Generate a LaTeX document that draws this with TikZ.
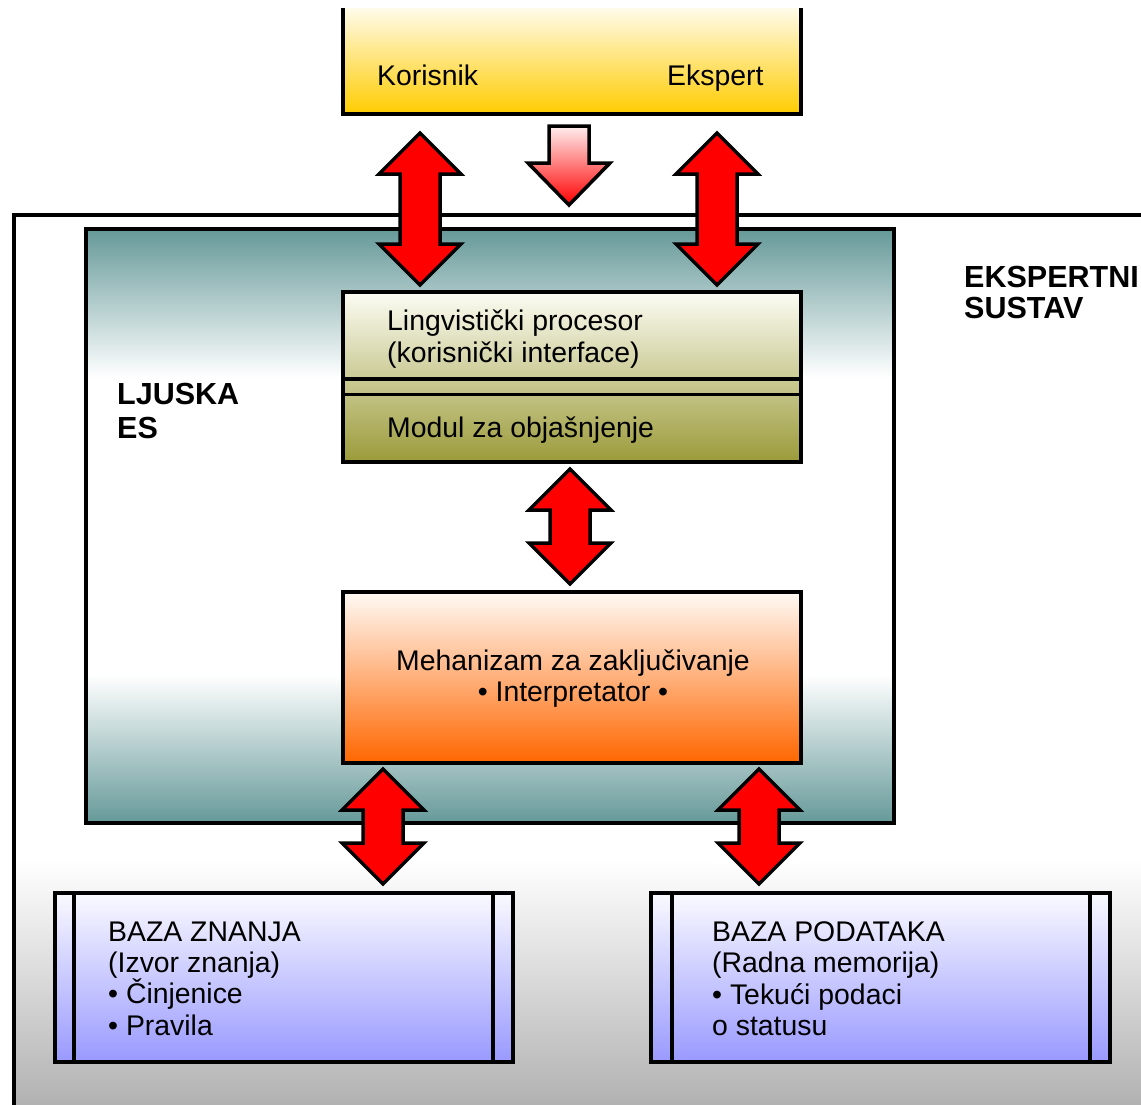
\documentclass[tikz,border=0pt]{standalone}
\usepackage{fontspec}
\setmainfont{Liberation Sans}
\usetikzlibrary{calc}
\definecolor{tealc}{HTML}{669999}
\definecolor{grayc}{HTML}{B0B0B0}
\definecolor{creamc}{HTML}{FFFBEA}
\definecolor{goldc}{HTML}{FFCC00}
\definecolor{olivetop}{HTML}{FCFCF4}
\definecolor{olivebot}{HTML}{9B9B3A}
\definecolor{orangetop}{HTML}{FFFAF5}
\definecolor{orangebot}{HTML}{FF6600}
\definecolor{lavtop}{HTML}{FAFAFF}
\definecolor{lavbot}{HTML}{9999FF}
\definecolor{pinktop}{HTML}{FFEEEE}
\newcommand\dblarr[2]{\path[redarrow] let \p1=(#1), \p2=(#2) in
  (\x1,\y1) -- (\x1+41pt,\y1-41pt) -- (\x1+20pt,\y1-41pt) -- (\x1+20pt,\y2+41pt)
  -- (\x1+41pt,\y2+41pt) -- (\x1,\y2) -- (\x1-41pt,\y2+41pt) -- (\x1-20pt,\y2+41pt)
  -- (\x1-20pt,\y1-41pt) -- (\x1-41pt,\y1-41pt) -- cycle;}
\newcommand\downarr[2]{\path[downarrow] let \p1=(#1), \p2=(#2) in
  (\x1-20pt,\y1) -- (\x1+20pt,\y1) -- (\x1+20pt,\y2+42pt) -- (\x1+41pt,\y2+42pt)
  -- (\x1,\y2) -- (\x1-41pt,\y2+42pt) -- (\x1-20pt,\y2+42pt) -- cycle;}
\begin{document}
\begin{tikzpicture}[x=1pt,y=-1pt,
  box/.style={draw=black, line width=4pt, outer sep=0pt, inner sep=0pt, rectangle},
  lbl/.style={anchor=base west, inner sep=0pt, font=\fontsize{28.4}{31}\selectfont},
  clbl/.style={anchor=base, inner sep=0pt, font=\fontsize{28.4}{31}\selectfont},
  blbl/.style={anchor=base west, inner sep=0pt, font=\fontsize{30.5}{34}\selectfont\bfseries},
  frame/.style={draw=black, line width=4pt},
  redarrow/.style={draw=black, fill=red, line width=3.5pt, line join=miter},
  downarrow/.style={draw=black, top color=pinktop, bottom color=red, line width=3.5pt, line join=miter},
]
\clip (0,0) rectangle (1141,1104);
\fill[white] (0,0) rectangle (1141,1104);

% outer frame (Ekspertni sustav)
\shade[top color=white, bottom color=grayc] (13.7,860) rectangle (1150,1110);
\draw[frame] (1150,215.3) -- (13.7,215.3) -- (13.7,1110);

% shell (Ljuska ES)
\shade[top color=tealc, bottom color=white] (85.8,229) rectangle (894,378);
\shade[top color=white, bottom color=tealc] (85.8,675) rectangle (894,823);
\node[box, minimum width=808.2pt, minimum height=594pt] (shell) at (489.9,526) {};

% top box (users)
\shade[top color=creamc, bottom color=goldc] (343,8) rectangle (800.5,113.7);
\draw[frame] (343,8) -- (343,113.7) -- (800.5,113.7) -- (800.5,8);
\coordinate (users) at (571.75,113.7);

% linguistic processor box
\node[box, top color=olivetop, bottom color=olivebot, minimum width=457.5pt, minimum height=170pt] (ling) at (571.75,377) {};
\draw[line width=3.5pt] (ling.west |- 0,379) -- (ling.east |- 0,379);
\draw[line width=3.5pt] (ling.west |- 0,394.7) -- (ling.east |- 0,394.7);

% inference engine box
\node[box, top color=orangetop, bottom color=orangebot, minimum width=458pt, minimum height=171pt] (meh) at (572,677.5) {};

% knowledge base and database boxes
\node[box, top color=lavtop, bottom color=lavbot, minimum width=458pt, minimum height=169.3pt] (kb) at (283.7,977.35) {};
\draw[line width=4pt] ([xshift=19.5pt]kb.north west) -- ([xshift=19.5pt]kb.south west);
\draw[line width=4pt] ([xshift=-20pt]kb.north east) -- ([xshift=-20pt]kb.south east);
\node[box, top color=lavtop, bottom color=lavbot, minimum width=459pt, minimum height=169.3pt] (db) at (880.8,977.35) {};
\draw[line width=4pt] ([xshift=20.5pt]db.north west) -- ([xshift=20.5pt]db.south west);
\draw[line width=4pt] ([xshift=-20pt]db.north east) -- ([xshift=-20pt]db.south east);

% texts
\node[lbl] (korisnik) at (377,85) {Korisnik};
\node[lbl] (ekspert) at (667,85) {Ekspert};
\node[lbl] (l1) at (387,330) {Lingvistički procesor};
\node[lbl] (l2) at (387,362) {(korisnički interface)};
\node[lbl] (l3) at (387,437) {Modul za objašnjenje};
\node[clbl] (m1) at (573,670) {Mehanizam za zaključivanje};
\node[clbl] (m2) at (573,701) {• Interpretator •};
\node[blbl] (lj1) at (117,404) {LJUSKA};
\node[blbl] (lj2) at (117,438) {ES};
\node[blbl] (es1) at (964,287) {EKSPERTNI};
\node[blbl] (es2) at (964,318) {SUSTAV};
\node[lbl] (k1) at (108,941) {BAZA ZNANJA};
\node[lbl] (k2) at (108,972) {(Izvor znanja)};
\node[lbl] (k3) at (108,1003.5) {• Činjenice};
\node[lbl] (k4) at (108,1035) {• Pravila};
\node[lbl] (d1) at (712,941) {BAZA PODATAKA};
\node[lbl] (d2) at (712,972) {(Radna memorija)};
\node[lbl] (d3) at (712,1004) {• Tekući podaci};
\node[lbl] (d4) at (712,1035.5) {o statusu};

% arrows
\coordinate (a1t) at (420,133);  \coordinate (a1b) at (420,285);
\coordinate (a2t) at (717,133);  \coordinate (a2b) at (717,285);
\coordinate (a3t) at (570,469);  \coordinate (a3b) at (570,584);
\coordinate (a4t) at (383,769);  \coordinate (a4b) at (383,884);
\coordinate (a5t) at (759,769);  \coordinate (a5b) at (759,884);
\coordinate (dt) at (569,126);   \coordinate (db0) at (569,205);
\dblarr{a1t}{a1b}
\dblarr{a2t}{a2b}
\dblarr{a3t}{a3b}
\dblarr{a4t}{a4b}
\dblarr{a5t}{a5b}
\downarr{dt}{db0}
\end{tikzpicture}
\end{document}
